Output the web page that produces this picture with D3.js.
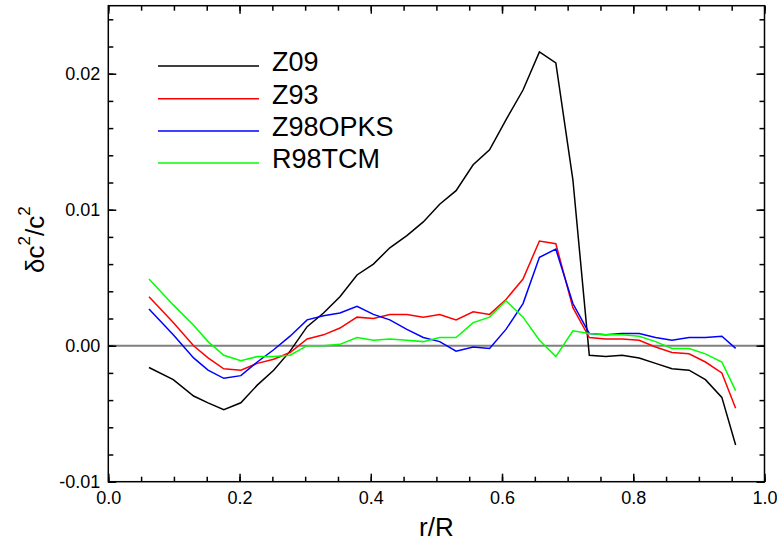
<!DOCTYPE html>
<html>
<head>
<meta charset="utf-8">
<script src="https://cdn.jsdelivr.net/npm/d3@7"></script>
<style>
  body { margin: 0; background: #fff; }
  svg { display: block; font-family: "Liberation Sans", Arial, sans-serif; }
</style>
</head>
<body>
<div class="chart-container"></div>
<script>
// r/R grid (shared by all models)
const rValues = [0.062, 0.099, 0.130, 0.152, 0.176, 0.202, 0.227, 0.252, 0.277, 0.303,
                 0.328, 0.353, 0.379, 0.404, 0.429, 0.455, 0.480, 0.505, 0.530, 0.556,
                 0.581, 0.606, 0.632, 0.657, 0.682, 0.708, 0.733, 0.758, 0.783, 0.809,
                 0.834, 0.859, 0.885, 0.910, 0.935, 0.956]

const z09 = [-0.0016, -0.0025, -0.0037, -0.0042, -0.0047, -0.0042, -0.0029, -0.0018, -0.0004, 0.0014,
             0.0024, 0.0036, 0.0052, 0.0060, 0.0072, 0.0081, 0.0091, 0.0104, 0.0114, 0.0133,
             0.0144, 0.0166, 0.0188, 0.0216, 0.0208, 0.0122, -0.0007, -0.0008, -0.0007, -0.0009,
             -0.0013, -0.0017, -0.0018, -0.0025, -0.0038, -0.0073]

const z93 = [0.0036, 0.0017, 0.0000, -0.0009, -0.0017, -0.0018, -0.0013, -0.0010, -0.0005, 0.0005,
             0.0008, 0.0013, 0.0021, 0.0020, 0.0023, 0.0023, 0.0021, 0.0023, 0.0019, 0.0025,
             0.0023, 0.0034, 0.0049, 0.0077, 0.0075, 0.0028, 0.0006, 0.0005, 0.0005, 0.0004,
             -0.0001, -0.0005, -0.0006, -0.0012, -0.0020, -0.0046]

const z98opks = [0.0027, 0.0008, -0.0009, -0.0018, -0.0024, -0.0022, -0.0012, -0.0003, 0.0007, 0.0019,
                 0.0022, 0.0024, 0.0029, 0.0023, 0.0019, 0.0012, 0.0006, 0.0003, -0.0004, -0.0001,
                 -0.0002, 0.0012, 0.0031, 0.0065, 0.0071, 0.0031, 0.0009, 0.0008, 0.0009, 0.0009,
                 0.0006, 0.0004, 0.0006, 0.0006, 0.0007, -0.0002]

const r98tcm = [0.0049, 0.0030, 0.0015, 0.0003, -0.0007, -0.0011, -0.0008, -0.0008, -0.0007, 0.0000,
                0.0000, 0.0001, 0.0006, 0.0004, 0.0005, 0.0004, 0.0003, 0.0006, 0.0006, 0.0017,
                0.0021, 0.0033, 0.0021, 0.0004, -0.0008, 0.0011, 0.0009, 0.0008, 0.0008, 0.0007,
                0.0003, -0.0002, -0.0002, -0.0006, -0.0012, -0.0033]

const seriesNames = ['Z09', 'Z93', 'Z98OPKS', 'R98TCM']
const seriesColors = ['#000000', '#ff0000', '#0000ff', '#00ff00']
const seriesValues = [z09, z93, z98opks, r98tcm]

const xTicks = [0, 0.2, 0.4, 0.6, 0.8, 1.0]
const xMinorTicks = d3.range(0, 1.0001, 0.05)
const yTicks = [-0.01, 0, 0.01, 0.02]
const yMinorTicks = d3.range(-0.01, 0.0251, 0.002)

const width = 777, height = 544
const margin = {top: 5.7, right: 12.5, bottom: 62.3, left: 108.3}

const svg = d3.select('.chart-container').append('svg')
    .attr('width', width)
    .attr('height', height)

const xScale = d3.scaleLinear()
    .domain([0, 1])
    .range([margin.left, width - margin.right])

const yScale = d3.scaleLinear()
    .domain([-0.01, 0.025])
    .range([height - margin.bottom, margin.top])

// zero line
svg.append('line')
    .attr('x1', xScale(0))
    .attr('x2', xScale(1))
    .attr('y1', yScale(0))
    .attr('y2', yScale(0))
    .attr('stroke', '#808080')
    .attr('stroke-width', 2)

// curves
const line = d3.line()
    .x((d, i) => xScale(rValues[i]))
    .y(d => yScale(d))

svg.selectAll('.curve')
    .data(seriesValues)
    .enter()
    .append('path')
    .classed('curve', true)
    .attr('d', d => line(d))
    .attr('fill', 'none')
    .attr('stroke', (d, i) => seriesColors[i])
    .attr('stroke-width', 1.5)
    .attr('stroke-linejoin', 'miter')

// axes, ticks pointing inward on all four sides
function styleAxis(g) {
    g.select('.domain').remove()
    g.selectAll('line').attr('stroke', '#000').attr('stroke-width', 1.5)
    g.selectAll('text').attr('font-size', 18).attr('fill', '#000')
        .attr('font-family', '"Liberation Sans", Arial, sans-serif')
}

const bottomY = yScale(-0.01), topY = yScale(0.025)
const leftX = xScale(0), rightX = xScale(1)

svg.append('g')
    .attr('transform', `translate(0,${bottomY})`)
    .call(d3.axisBottom(xScale).tickValues(xMinorTicks).tickFormat('').tickSizeInner(-5).tickSizeOuter(0))
    .call(styleAxis)
svg.append('g')
    .attr('transform', `translate(0,${bottomY})`)
    .call(d3.axisBottom(xScale).tickValues(xTicks).tickFormat(d => d.toFixed(1)).tickSizeInner(-8).tickSizeOuter(0).tickPadding(10))
    .call(styleAxis)
svg.append('g')
    .attr('transform', `translate(0,${topY})`)
    .call(d3.axisTop(xScale).tickValues(xMinorTicks).tickFormat('').tickSizeInner(-5).tickSizeOuter(0))
    .call(styleAxis)
svg.append('g')
    .attr('transform', `translate(0,${topY})`)
    .call(d3.axisTop(xScale).tickValues(xTicks).tickFormat('').tickSizeInner(-8).tickSizeOuter(0))
    .call(styleAxis)

svg.append('g')
    .attr('transform', `translate(${leftX},0)`)
    .call(d3.axisLeft(yScale).tickValues(yMinorTicks).tickFormat('').tickSizeInner(-5).tickSizeOuter(0))
    .call(styleAxis)
svg.append('g')
    .attr('transform', `translate(${leftX},0)`)
    .call(d3.axisLeft(yScale).tickValues(yTicks).tickFormat(d => d.toFixed(2)).tickSizeInner(-8).tickSizeOuter(0).tickPadding(8))
    .call(styleAxis)
svg.append('g')
    .attr('transform', `translate(${rightX},0)`)
    .call(d3.axisRight(yScale).tickValues(yMinorTicks).tickFormat('').tickSizeInner(-5).tickSizeOuter(0))
    .call(styleAxis)
svg.append('g')
    .attr('transform', `translate(${rightX},0)`)
    .call(d3.axisRight(yScale).tickValues(yTicks).tickFormat('').tickSizeInner(-8).tickSizeOuter(0))
    .call(styleAxis)

// frame
svg.append('rect')
    .attr('x', leftX)
    .attr('y', topY)
    .attr('width', rightX - leftX)
    .attr('height', bottomY - topY)
    .attr('fill', 'none')
    .attr('stroke', '#000')
    .attr('stroke-width', 1.5)

// axis titles
svg.append('text')
    .attr('x', (leftX + rightX) / 2)
    .attr('y', 536)
    .attr('text-anchor', 'middle')
    .attr('font-size', 26)
    .text('r/R')

const yTitle = svg.append('text')
    .attr('transform', `translate(44,${(topY + bottomY) / 2 - 4}) rotate(-90)`)
    .attr('text-anchor', 'middle')
    .attr('font-size', 26)
yTitle.append('tspan').text('δc')
yTitle.append('tspan').attr('font-size', 17).attr('dy', -14).text('2')
yTitle.append('tspan').attr('dy', 14).text('/c')
yTitle.append('tspan').attr('font-size', 17).attr('dy', -14).text('2')

// legend
const legendRows = [66, 98.7, 131, 163]
const legend = svg.selectAll('.legend')
    .data(seriesNames)
    .enter()
    .append('g')
    .classed('legend', true)
    .attr('transform', (d, i) => `translate(0,${legendRows[i]})`)

legend.append('line')
    .attr('x1', 158)
    .attr('x2', 259)
    .attr('stroke', (d, i) => seriesColors[i])
    .attr('stroke-width', 1.5)

legend.append('text')
    .attr('x', 272)
    .attr('y', 5)
    .attr('font-size', 27)
    .text(d => d)
</script>
</body>
</html>
